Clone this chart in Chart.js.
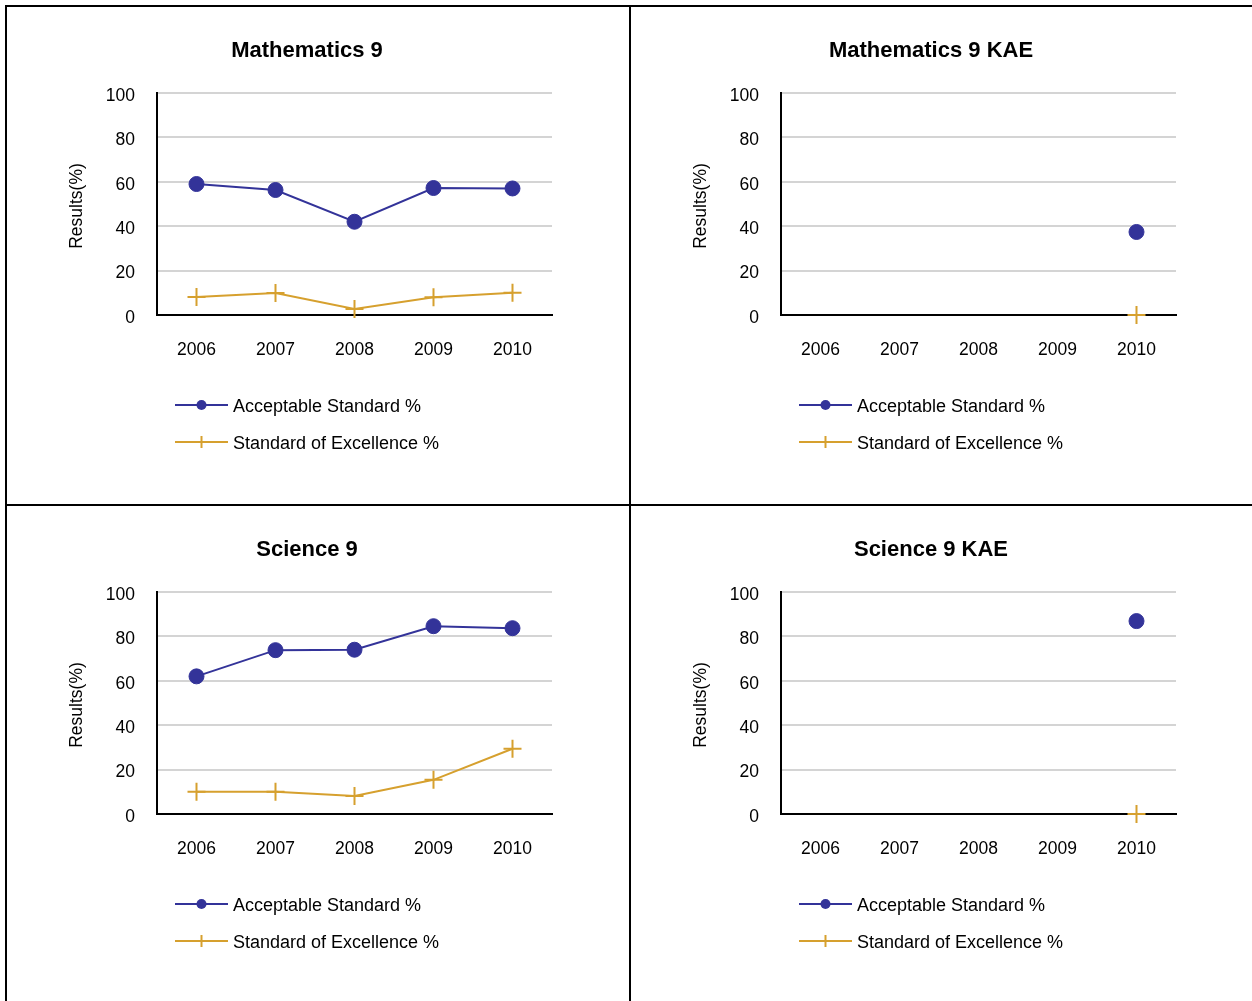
<!DOCTYPE html>
<html>
<head>
<meta charset="utf-8">
<script src="https://cdn.jsdelivr.net/npm/chart.js@4.4.1/dist/chart.umd.min.js"></script>
<style>
    html, body { margin: 0; padding: 0; background: #fff; overflow: hidden; }
    body { width: 1252px; height: 1001px; position: relative; }
    .rule { position: absolute; background: #000; }
    canvas { position: absolute; }
</style>
</head>
<body>
<div class="rule" style="left:5px; top:5px; width:1247px; height:2px;"></div>
<div class="rule" style="left:5px; top:504px; width:1247px; height:2px;"></div>
<div class="rule" style="left:5px; top:5px; width:2px; height:996px;"></div>
<div class="rule" style="left:629px; top:5px; width:2px; height:996px;"></div>

<canvas id="math9" width="622" height="495" style="left:7px; top:7px;"></canvas>
<canvas id="math9kae" width="621" height="495" style="left:631px; top:7px;"></canvas>
<canvas id="sci9" width="622" height="495" style="left:7px; top:506px;"></canvas>
<canvas id="sci9kae" width="621" height="495" style="left:631px; top:506px;"></canvas>

<script>
// Data
const years = ['2006', '2007', '2008', '2009', '2010'];
const seriesNames = ['Acceptable Standard %', 'Standard of Excellence %'];

const math9Acceptable = [59, 56.3, 42, 57.2, 57];
const math9Excellence = [8.1, 9.9, 2.7, 8, 10];

const math9KaeAcceptable = [null, null, null, null, 37.4];
const math9KaeExcellence = [null, null, null, null, 0];

const sci9Acceptable = [62, 73.8, 74, 84.6, 83.7];
const sci9Excellence = [10, 10, 8.1, 15.4, 29.4];

const sci9KaeAcceptable = [null, null, null, null, 86.9];
const sci9KaeExcellence = [null, null, null, null, 0];

const BLUE = '#333399';
const GOLD = '#D6A02E';
const FONT = "'Liberation Sans', Arial, sans-serif";

// titles, y axis title and the stacked legend
const panelDecor = {
    id: 'panelDecor',
    afterDraw(chart, args, opts) {
        const ctx = chart.ctx;
        const area = chart.chartArea;
        ctx.save();

        // title
        ctx.fillStyle = '#000';
        ctx.font = 'bold 22px ' + FONT;
        ctx.textAlign = 'center';
        ctx.textBaseline = 'middle';
        ctx.fillText(opts.title, 300, 44);

        // y axis title
        ctx.save();
        ctx.translate(70, (area.top + area.bottom) / 2 + 2);
        ctx.rotate(-Math.PI / 2);
        ctx.font = '17.5px ' + FONT;
        ctx.fillText('Results(%)', 0, 0);
        ctx.restore();

        // legend
        chart.data.datasets.forEach((ds, i) => {
            const y = 398 + i * 37;
            ctx.strokeStyle = ds.borderColor;
            ctx.lineWidth = 2;
            ctx.beginPath();
            ctx.moveTo(168, y);
            ctx.lineTo(221, y);
            ctx.stroke();
            if (ds.pointStyle === 'circle') {
                ctx.fillStyle = ds.borderColor;
                ctx.beginPath();
                ctx.arc(194.5, y, 5, 0, Math.PI * 2);
                ctx.fill();
            } else {
                ctx.beginPath();
                ctx.moveTo(194.5, y - 6);
                ctx.lineTo(194.5, y + 6);
                ctx.stroke();
            }
            ctx.fillStyle = '#000';
            ctx.font = '18px ' + FONT;
            ctx.textAlign = 'left';
            ctx.textBaseline = 'middle';
            ctx.fillText(ds.label, 226, y + 2);
        });
        ctx.restore();
    }
};

function makeChart(id, title, acceptable, excellence) {
    const ctx = document.getElementById(id).getContext('2d');
    return new Chart(ctx, {
        type: 'line',
        data: {
            labels: years,
            datasets: [{
                label: seriesNames[0],
                data: acceptable,
                borderColor: BLUE,
                backgroundColor: BLUE,
                borderWidth: 2,
                pointStyle: 'circle',
                pointRadius: 7.5,
                pointBorderWidth: 1,
                tension: 0,
                clip: false
            }, {
                label: seriesNames[1],
                data: excellence,
                borderColor: GOLD,
                backgroundColor: GOLD,
                borderWidth: 2,
                pointStyle: 'cross',
                pointRadius: 9,
                pointBorderWidth: 2,
                tension: 0,
                clip: false
            }]
        },
        options: {
            responsive: false,
            animation: false,
            events: [],
            layout: { padding: { left: 90, top: 86, right: ctx.canvas.width - 545, bottom: 127 } },
            plugins: {
                legend: { display: false },
                title: { display: false },
                tooltip: { enabled: false },
                panelDecor: { title: title }
            },
            scales: {
                x: {
                    offset: true,
                    grid: { display: false, drawTicks: false },
                    border: { color: '#000', width: 2 },
                    ticks: { color: '#000', font: { family: FONT, size: 17.5 }, padding: 25, maxRotation: 0 },
                    afterFit: (s) => { s.height = 60; }
                },
                y: {
                    min: 0,
                    max: 100,
                    grid: {
                        drawTicks: false,
                        lineWidth: 2,
                        color: (c) => c.tick && c.tick.value === 0 ? 'rgba(0,0,0,0)' : '#d4d4d4'
                    },
                    border: { color: '#000', width: 2 },
                    ticks: { stepSize: 20, color: '#000', font: { family: FONT, size: 17.5 }, padding: 22, labelOffset: 3 },
                    afterFit: (s) => { s.width = 60; }
                }
            }
        },
        plugins: [panelDecor]
    });
}

makeChart('math9', 'Mathematics 9', math9Acceptable, math9Excellence);
makeChart('math9kae', 'Mathematics 9 KAE', math9KaeAcceptable, math9KaeExcellence);
makeChart('sci9', 'Science 9', sci9Acceptable, sci9Excellence);
makeChart('sci9kae', 'Science 9 KAE', sci9KaeAcceptable, sci9KaeExcellence);
</script>
</body>
</html>
